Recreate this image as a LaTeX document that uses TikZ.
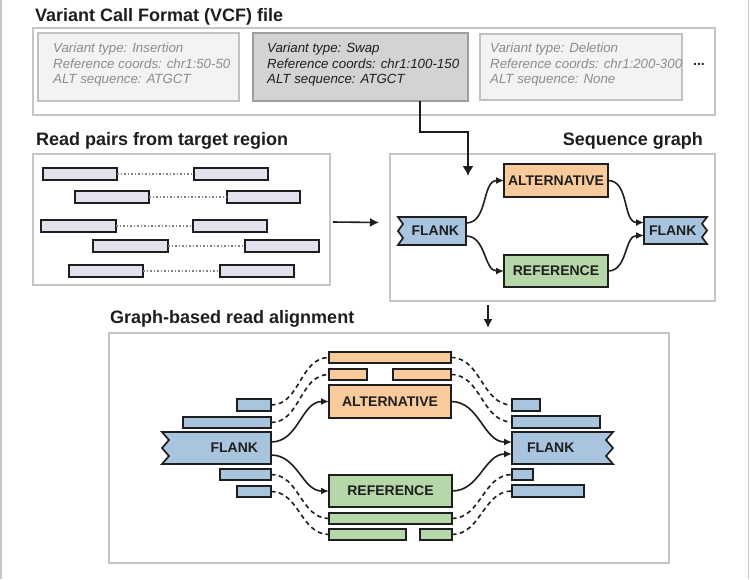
\documentclass[tikz,border=0pt]{standalone}
\usepackage{fontspec}
\setmainfont{Liberation Sans}
\usetikzlibrary{arrows.meta,calc,backgrounds}
\definecolor{framec}{HTML}{C6C6C6}
\definecolor{lav}{HTML}{E4E1EE}
\definecolor{orng}{HTML}{F9CB9C}
\definecolor{grn}{HTML}{B6D7A8}
\definecolor{blu}{HTML}{A9C4DF}
\definecolor{ink}{HTML}{1E1E1E}
\definecolor{dimtxt}{HTML}{8C8C8C}
\definecolor{vlight}{HTML}{F3F3F3}
\definecolor{vdark}{HTML}{D3D3D3}
\definecolor{vborder}{HTML}{C2C2C2}
\definecolor{vborderdk}{HTML}{9E9E9E}
\tikzset{
  rect/.style={anchor=north west, inner sep=0pt, outer sep=0pt},
  panel/.style={rect, draw=framec, line width=2pt},
  vbox/.style={rect, fill=vlight, draw=vborder, line width=1.5pt},
  vboxsel/.style={rect, fill=vdark, draw=vborderdk, line width=2.2pt},
  vtext/.style={anchor=west, inner sep=0pt, align=left, font=\fontsize{13.3}{15.5}\selectfont\itshape},
  ttl/.style={inner sep=0pt, font=\fontsize{18}{22}\selectfont\bfseries, text=ink},
  rd/.style={rect, fill=lav, draw=ink, line width=1.8pt, minimum height=12pt},
  seg/.style={rect, draw=ink, line width=1.7pt},
  gnode/.style={seg, font=\fontsize{14}{16}\selectfont\bfseries, text=ink},
  flk/.style={rect, font=\fontsize{14}{16}\selectfont\bfseries, text=ink},
  flkshape/.style={fill=blu, draw=ink, line width=1.7pt, line join=miter},
  pairline/.style={draw=gray, line width=1.3pt, dash pattern=on 1.5pt off 2pt},
  arr/.style={draw=ink, line width=1.6pt, -{Latex[length=9pt,width=9pt]}},
  flow/.style={draw=ink, line width=1.6pt, -{Latex[length=8pt,width=7pt]}},
  dsh/.style={draw=ink, line width=1.6pt, dash pattern=on 4.5pt off 3.5pt},
}
\begin{document}
\begin{tikzpicture}[x=1pt,y=-1pt]
\useasboundingbox (0,0) rectangle (750,579);
\begin{scope}[on background layer]
\fill[white] (0,0) rectangle (750,579);
\end{scope}
\draw[framec, line width=1.2pt] (1,0) -- (1,579);
\draw[framec, line width=1.2pt] (748.5,0) -- (748.5,579);

% ---------- VCF ----------
\node[ttl, anchor=base west] (tvcf) at (35,21) {Variant Call Format (VCF) file};
\node[panel, minimum width=682, minimum height=87] (vcf) at (33,28) {};
\node[vbox, minimum width=201, minimum height=68] (v1) at (38,33) {};
\node[vboxsel, minimum width=215, minimum height=68] (v2) at (253,33) {};
\node[vbox, minimum width=202, minimum height=66] (v3) at (480,34) {};
\node[vtext, text=dimtxt] (v1t) at (53,65) {Variant type: Insertion\\Reference coords: chr1:50-50\\ALT sequence: ATGCT};
\node[vtext, text=ink] (v2t) at (267,65) {Variant type: Swap\\Reference coords: chr1:100-150\\ALT sequence: ATGCT};
\node[vtext, text=dimtxt] (v3t) at (490,65) {Variant type: Deletion\\Reference coords: chr1:200-300\\ALT sequence: None};
\node[inner sep=0pt, font=\fontsize{14}{16}\selectfont\bfseries, text=ink] (dots) at (699,64) {...};

% ---------- Read pairs ----------
\node[ttl, anchor=base west] (treads) at (36,145) {Read pairs from target region};
\node[panel, minimum width=297, minimum height=131] (reads) at (33,154) {};
\node[rd, minimum width=74] (p1a) at (43,168) {};
\node[rd, minimum width=74] (p1b) at (194,168) {};
\node[rd, minimum width=74] (p2a) at (75,191) {};
\node[rd, minimum width=73] (p2b) at (227,191) {};
\node[rd, minimum width=75] (p3a) at (41,220) {};
\node[rd, minimum width=74] (p3b) at (193,220) {};
\node[rd, minimum width=75] (p4a) at (93,240) {};
\node[rd, minimum width=74] (p4b) at (245,240) {};
\node[rd, minimum width=74] (p5a) at (69,265) {};
\node[rd, minimum width=74] (p5b) at (220,265) {};
\foreach \r in {1,...,5}{\draw[pairline] (p\r a.east) -- (p\r b.west);}

% ---------- Sequence graph ----------
\node[ttl, anchor=base east] (tseq) at (703,145) {Sequence graph};
\node[panel, minimum width=325, minimum height=147] (seq) at (390,154) {};
\node[gnode, fill=orng, minimum width=104, minimum height=33] (alt1) at (504,164) {ALTERNATIVE};
\node[gnode, fill=grn, minimum width=104, minimum height=32] (ref1) at (504,255) {REFERENCE};
\node[flk, minimum height=28, text width=54, inner xsep=7pt, align=right] (fL1) at (398,217) {FLANK};
\node[flk, minimum height=27, text width=53, inner xsep=5pt, align=left] (fR1) at (644,217) {FLANK};

% ---------- Alignment ----------
\node[ttl, anchor=base west] (taln) at (110,323) {Graph-based read alignment};
\node[panel, minimum width=560, minimum height=230] (aln) at (109,333) {};
\node[gnode, fill=orng, minimum width=122, minimum height=33] (alt2) at (329,385) {ALTERNATIVE};
\node[gnode, fill=grn, minimum width=123, minimum height=32] (ref2) at (329,475) {REFERENCE};
\node[flk, minimum height=32, text width=83, inner xsep=13pt, align=right] (fL2) at (162,432) {FLANK};
\node[flk, minimum height=32, text width=71, inner xsep=15pt, align=left] (fR2) at (512,432) {FLANK};

\node[seg, fill=orng, minimum width=122, minimum height=11] (o1) at (329,352) {};
\node[seg, fill=orng, minimum width=38, minimum height=11] (o2a) at (329,369) {};
\node[seg, fill=orng, minimum width=58, minimum height=11] (o2b) at (393,369) {};
\node[seg, fill=grn, minimum width=123, minimum height=11] (g1) at (329,513) {};
\node[seg, fill=grn, minimum width=77, minimum height=11] (g2a) at (329,529) {};
\node[seg, fill=grn, minimum width=32, minimum height=11] (g2b) at (420,529) {};
\node[seg, fill=blu, minimum width=34, minimum height=12] (bl1) at (237,399) {};
\node[seg, fill=blu, minimum width=88, minimum height=11] (bl2) at (183,417) {};
\node[seg, fill=blu, minimum width=51, minimum height=11] (bl3) at (220,469) {};
\node[seg, fill=blu, minimum width=34, minimum height=11] (bl4) at (237,486) {};
\node[seg, fill=blu, minimum width=28, minimum height=12] (br1) at (512,399) {};
\node[seg, fill=blu, minimum width=88, minimum height=12] (br2) at (512,416) {};
\node[seg, fill=blu, minimum width=21, minimum height=11] (br3) at (512,469) {};
\node[seg, fill=blu, minimum width=72, minimum height=12] (br4) at (512,485) {};

% flank shapes (behind text)
\begin{scope}[on background layer]
\foreach \n/\d in {fL1/5,fL2/7}{
  \draw[flkshape] (\n.north west) -- ($(\n.north west)!0.25!(\n.south west)+(\d,0)$) -- (\n.west)
    -- ($(\n.north west)!0.75!(\n.south west)+(\d,0)$) -- (\n.south west) -- (\n.south east) -- (\n.north east) -- cycle;}
\foreach \n/\d in {fR1/5,fR2/7}{
  \draw[flkshape] (\n.north east) -- ($(\n.north east)!0.25!(\n.south east)+(-\d,0)$) -- (\n.east)
    -- ($(\n.north east)!0.75!(\n.south east)+(-\d,0)$) -- (\n.south east) -- (\n.south west) -- (\n.north west) -- cycle;}
\end{scope}

% ---------- connectors ----------
\draw[arr, -{Latex[length=10pt,width=11pt]}] ($(v2.south east)+(-48,0)$) |- ($(seq.north west)+(78,-22)$) -- ($(seq.north west)+(78,22)$);
\draw[arr] ($(reads.east)+(3,2.5)$) -- ($(seq.west)+(-11,-5)$);
\draw[arr] ($(seq.south west)+(98,4)$) -- ($(aln.north west)+(379,-5)$);

\draw[flow] ($(fL1.east)+(0,-8)$) to[out=0,in=180] (alt1.west);
\draw[flow] ($(fL1.east)+(0,5)$) to[out=0,in=180] (ref1.west);
\draw[flow] (alt1.east) to[out=0,in=180] ($(fR1.west)+(0,-8)$);
\draw[flow] (ref1.east) to[out=0,in=180] ($(fR1.west)+(0,5)$);

\draw[flow] ($(fL2.east)+(0,-6)$) to[out=0,in=180] (alt2.west);
\draw[flow] ($(fL2.east)+(0,7)$) to[out=0,in=180] (ref2.west);
\draw[flow] (alt2.east) to[out=0,in=180] ($(fR2.west)+(0,-6)$);
\draw[flow] (ref2.east) to[out=0,in=180] ($(fR2.west)+(0,6)$);

\draw[dsh] (bl1.east) to[out=0,in=180] (o1.west);
\draw[dsh] (bl2.east) to[out=0,in=180] (o2a.west);
\draw[dsh] (bl3.east) to[out=0,in=180] (g1.west);
\draw[dsh] (bl4.east) to[out=0,in=180] (g2a.west);
\draw[dsh] (o1.east) to[out=0,in=180] (br1.west);
\draw[dsh] (o2b.east) to[out=0,in=180] (br2.west);
\draw[dsh] (g1.east) to[out=0,in=180] (br3.west);
\draw[dsh] (g2b.east) to[out=0,in=180] (br4.west);
\end{tikzpicture}
\end{document}
